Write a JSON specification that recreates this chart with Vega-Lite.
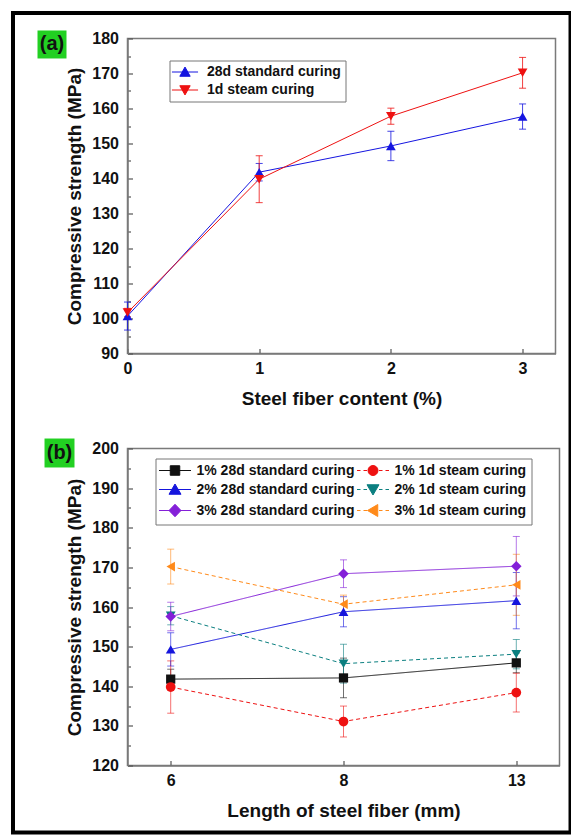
{
  "$schema": "https://vega.github.io/schema/vega-lite/v6.json",
  "padding": {"left": 9.5, "top": 9.5, "right": 0, "bottom": 2},
  "background": "white",
  "bounds": "flush",
  "spacing": 95,
  "config": {
    "font": "Liberation Sans",
    "view": {"stroke": "#7a7a7a", "strokeWidth": 1.5},
    "axis": {
      "grid": false, "domainColor": "#7a7a7a", "domainWidth": 1.5,
      "tickColor": "#555", "tickWidth": 1.2,
      "labelFont": "Liberation Sans", "labelFontWeight": "bold", "labelFontSize": 16, "labelColor": "#111",
      "titleFont": "Liberation Sans", "titleFontWeight": "bold", "titleFontSize": 19, "titleColor": "#111",
      "labelFlush": false, "labelOverlap": false
    },
    "legend": {
      "labelFont": "Liberation Sans", "labelFontSize": 14, "labelFontWeight": "bold", "labelColor": "#111", "labelLimit": 300,
      "symbolStrokeWidth": 1, "symbolOpacity": 1, "strokeColor": "#777", "fillColor": "white", "rowPadding": 4
    }
  },
  "resolve": {"scale": {"color": "independent", "strokeDash": "independent"}},
  "vconcat": [
    {
      "width": 428,
      "height": 315,
      "layer": [
        {
          "data": {"values": [{}]},
          "mark": {"type": "rect", "fill": "transparent", "stroke": "black", "strokeWidth": 4},
          "encoding": {"x": {"datum": -0.8695}, "x2": {"datum": 3.364}, "y": {"datum": 187.286}, "y2": {"datum": -46.857}}
        },
        {
          "data": {"values": [{}]},
          "mark": {"type": "rect", "fill": "#22d022"},
          "encoding": {"x": {"datum": -0.6834}, "x2": {"datum": -0.4632}, "y": {"datum": 182.29}, "y2": {"datum": 174.29}}
        },
        {
          "data": {"values": [{}]},
          "mark": {"type": "text", "font": "Liberation Sans", "fontSize": 20, "fontWeight": "bold", "color": "#111", "align": "center", "baseline": "middle"},
          "encoding": {"x": {"datum": -0.5733}, "y": {"datum": 178.3}, "text": {"value": "(a)"}}
        },
        {
          "data": {"values": [
            {"series": "28d standard curing", "content": 0, "strength": 100.7, "err": 4.0},
            {"series": "28d standard curing", "content": 1, "strength": 141.8, "err": 2.5},
            {"series": "28d standard curing", "content": 2, "strength": 149.3, "err": 4.2},
            {"series": "28d standard curing", "content": 3, "strength": 157.7, "err": 3.6},
            {"series": "1d steam curing", "content": 0, "strength": 101.7, "err": 1.2},
            {"series": "1d steam curing", "content": 1, "strength": 139.8, "err": 6.7},
            {"series": "1d steam curing", "content": 2, "strength": 157.8, "err": 2.3},
            {"series": "1d steam curing", "content": 3, "strength": 170.2, "err": 4.4}
          ]},
          "encoding": {
            "x": {"field": "content", "type": "quantitative",
              "scale": {"domain": [0, 3.25], "nice": false, "zero": false},
              "axis": {"values": [0, 1, 2, 3], "tickCount": 20, "format": "d", "title": "Steel fiber content (%)", "tickSize": -5, "labelPadding": 12, "titlePadding": 13, "labelOverlap": false}},
            "y": {"field": "strength", "type": "quantitative",
              "scale": {"domain": [90, 180], "nice": false, "zero": false},
              "axis": {"values": [90, 95, 100, 105, 110, 115, 120, 125, 130, 135, 140, 145, 150, 155, 160, 165, 170, 175, 180],
                "tickCount": 40,
                "labelExpr": "datum.value % 10 === 0 ? datum.label : ''",
                "labelOverlap": false,
                "labelFontSize": {"condition": {"test": "datum.value % 10 !== 0", "value": 1}, "value": 16},
                "tickSize": {"condition": {"test": "datum.value % 10 === 0", "value": -5}, "value": -3},
                "labelPadding": 14, "titlePadding": 7, "title": "Compressive strength (MPa)"}},
            "color": {"field": "series", "type": "nominal",
              "scale": {"domain": ["28d standard curing", "1d steam curing"], "range": ["#1515e0", "#ee1111"]}}
          },
          "layer": [
            {
              "mark": {"type": "line", "strokeWidth": 1},
              "encoding": {
                "color": {"field": "series", "type": "nominal",
                  "scale": {"domain": ["28d standard curing", "1d steam curing"], "range": ["#1515e0", "#ee1111"]},
                  "legend": {
                    "title": null, "orient": "none", "legendX": 42, "legendY": 22,
                    "symbolSize": 81, "padding": 4.5, "symbolOffset": 4, "labelOffset": 15,
                    "encode": {"symbols": {"update": {
                      "shape": {"signal": "datum.value === '28d standard curing' ? 'M-2.9,0H2.9M0,-1.1L1.15,0.95H-1.15Z' : 'M-2.9,0H2.9M0,1.1L1.15,-0.95H-1.15Z'"},
                      "fill": {"signal": "datum.value === '28d standard curing' ? '#1515e0' : '#ee1111'"},
                      "stroke": {"signal": "datum.value === '28d standard curing' ? '#1515e0' : '#ee1111'"},
                      "strokeWidth": {"value": 1},
                      "opacity": {"value": 1}
                    }}}
                  }}
              }
            },
            {
              "mark": {"type": "errorbar", "ticks": {"size": 7}, "thickness": 1, "opacity": 0.8},
              "encoding": {"yError": {"field": "err"}}
            },
            {
              "transform": [{"filter": "datum.series === '28d standard curing'"}],
              "mark": {"type": "point", "filled": true, "opacity": 1, "size": 95, "shape": "triangle-up"}
            },
            {
              "transform": [{"filter": "datum.series === '1d steam curing'"}],
              "mark": {"type": "point", "filled": true, "opacity": 1, "size": 95, "shape": "triangle-down"}
            }
          ]
        }
      ]
    },
    {
      "width": 432,
      "height": 317,
      "resolve": {"scale": {"x": "independent"}, "axis": {"x": "independent"}},
      "layer": [
        {
          "data": {"values": [{}]},
          "layer": [
            {
              "mark": {"type": "rect", "fill": "#22d022"},
              "encoding": {
                "x": {"datum": -0.1921, "type": "quantitative", "scale": {"domain": [0, 1], "nice": false, "zero": false}, "axis": null},
                "x2": {"datum": -0.1227},
                "y": {"datum": 202.52, "type": "quantitative", "scale": {"domain": [120, 200], "nice": false, "zero": false}},
                "y2": {"datum": 195.21}
              }
            },
            {
              "mark": {"type": "text", "font": "Liberation Sans", "fontSize": 20, "fontWeight": "bold", "color": "#111", "align": "center", "baseline": "middle"},
              "encoding": {
                "x": {"datum": -0.1574, "type": "quantitative", "scale": {"domain": [0, 1], "nice": false, "zero": false}, "axis": null},
                "y": {"datum": 198.86, "type": "quantitative"},
                "text": {"value": "(b)"}
              }
            }
          ]
        },
        {
          "data": {"values": [
            {"series": "1% 28d standard curing", "curing": "standard", "length": 6, "strength": 141.8, "err": 2.5},
            {"series": "1% 28d standard curing", "curing": "standard", "length": 8, "strength": 142.1, "err": 5.0},
            {"series": "1% 28d standard curing", "curing": "standard", "length": 13, "strength": 145.9, "err": 2.5},
            {"series": "1% 1d steam curing", "curing": "steam", "length": 6, "strength": 139.8, "err": 6.6},
            {"series": "1% 1d steam curing", "curing": "steam", "length": 8, "strength": 131.1, "err": 3.9},
            {"series": "1% 1d steam curing", "curing": "steam", "length": 13, "strength": 138.4, "err": 4.9},
            {"series": "2% 28d standard curing", "curing": "standard", "length": 6, "strength": 149.3, "err": 4.2},
            {"series": "2% 28d standard curing", "curing": "standard", "length": 8, "strength": 158.8, "err": 3.8},
            {"series": "2% 28d standard curing", "curing": "standard", "length": 13, "strength": 161.6, "err": 7.1},
            {"series": "2% 1d steam curing", "curing": "steam", "length": 6, "strength": 157.8, "err": 2.3},
            {"series": "2% 1d steam curing", "curing": "steam", "length": 8, "strength": 145.7, "err": 4.9},
            {"series": "2% 1d steam curing", "curing": "steam", "length": 13, "strength": 148.1, "err": 3.7},
            {"series": "3% 28d standard curing", "curing": "standard", "length": 6, "strength": 157.6, "err": 3.6},
            {"series": "3% 28d standard curing", "curing": "standard", "length": 8, "strength": 168.4, "err": 3.5},
            {"series": "3% 28d standard curing", "curing": "standard", "length": 13, "strength": 170.3, "err": 7.5},
            {"series": "3% 1d steam curing", "curing": "steam", "length": 6, "strength": 170.2, "err": 4.4},
            {"series": "3% 1d steam curing", "curing": "steam", "length": 8, "strength": 160.7, "err": 2.3},
            {"series": "3% 1d steam curing", "curing": "steam", "length": 13, "strength": 165.6, "err": 7.7}
          ]},
          "encoding": {
            "x": {"field": "length", "type": "ordinal",
              "scale": {"type": "point", "domain": [6, 8, 13], "padding": 0.25},
              "axis": {"labelAngle": 0, "title": "Length of steel fiber (mm)", "tickSize": -5, "labelPadding": 12, "titlePadding": 13, "labelOverlap": false}},
            "y": {"field": "strength", "type": "quantitative",
              "scale": {"domain": [120, 200], "nice": false, "zero": false},
              "axis": {"values": [120, 125, 130, 135, 140, 145, 150, 155, 160, 165, 170, 175, 180, 185, 190, 195, 200],
                "tickCount": 40,
                "labelExpr": "datum.value % 10 === 0 ? datum.label : ''",
                "labelOverlap": false,
                "labelFontSize": {"condition": {"test": "datum.value % 10 !== 0", "value": 1}, "value": 16},
                "tickSize": {"condition": {"test": "datum.value % 10 === 0", "value": -5}, "value": -3},
                "labelPadding": 14, "titlePadding": 7, "title": "Compressive strength (MPa)"}},
            "color": {"field": "series", "type": "nominal",
              "scale": {"domain": ["1% 28d standard curing", "2% 28d standard curing", "3% 28d standard curing", "1% 1d steam curing", "2% 1d steam curing", "3% 1d steam curing"],
                "range": ["#111111", "#1515dd", "#8420d8", "#ee1111", "#0b7f80", "#ff8a1a"]}}
          },
          "layer": [
            {
              "mark": {"type": "line", "strokeWidth": 1},
              "encoding": {
                "detail": {"field": "series"},
                "strokeDash": {"field": "curing", "type": "nominal",
                  "scale": {"domain": ["standard", "steam"], "range": [[1, 0], [4, 3]]},
                  "legend": null},
                "color": {"field": "series", "type": "nominal",
                  "scale": {"domain": ["1% 28d standard curing", "2% 28d standard curing", "3% 28d standard curing", "1% 1d steam curing", "2% 1d steam curing", "3% 1d steam curing"],
                    "range": ["#111111", "#1515dd", "#8420d8", "#ee1111", "#0b7f80", "#ff8a1a"]},
                  "legend": {
                    "title": null, "orient": "none", "legendX": 28, "legendY": 10, "columns": 2, "columnPadding": 0,
                    "symbolSize": 100, "padding": 5, "symbolOffset": 7.5, "labelOffset": 14.5,
                    "encode": {"symbols": {"update": {
                      "shape": {"signal": "['M-3.2,0H3.2M-0.95,-0.95H0.95V0.95H-0.95Z','M-3.2,0H-2.5M-1.9,0H-1.2M1.2,0H1.9M2.5,0H3.2M1,0A1,1,0,1,1,-1,0A1,1,0,1,1,1,0Z','M-3.2,0H3.2M0,-1.1L1.2,0.95H-1.2Z','M-3.2,0H-2.5M-1.9,0H-1.2M1.2,0H1.9M2.5,0H3.2M0,1.1L1.2,-0.95H-1.2Z','M-3.2,0H3.2M0,-1.25L1.2,0L0,1.25L-1.2,0Z','M-3.2,0H-2.5M-1.9,0H-1.2M1.2,0H1.9M2.5,0H3.2M-1.1,0L0.95,-1.2V1.2Z'][indexof(['1% 28d standard curing','1% 1d steam curing','2% 28d standard curing','2% 1d steam curing','3% 28d standard curing','3% 1d steam curing'], datum.value)]"},
                      "fill": {"signal": "['#111111','#ee1111','#1515dd','#0b7f80','#8420d8','#ff8a1a'][indexof(['1% 28d standard curing','1% 1d steam curing','2% 28d standard curing','2% 1d steam curing','3% 28d standard curing','3% 1d steam curing'], datum.value)]"},
                      "stroke": {"signal": "['#111111','#ee1111','#1515dd','#0b7f80','#8420d8','#ff8a1a'][indexof(['1% 28d standard curing','1% 1d steam curing','2% 28d standard curing','2% 1d steam curing','3% 28d standard curing','3% 1d steam curing'], datum.value)]"},
                      "strokeWidth": {"value": 1},
                      "opacity": {"value": 1}
                    }}}
                  }}
              }
            },
            {
              "mark": {"type": "errorbar", "ticks": {"size": 7}, "thickness": 1, "opacity": 0.6},
              "encoding": {"yError": {"field": "err"}}
            },
            {
              "transform": [{"filter": "datum.series === '1% 28d standard curing'"}],
              "mark": {"type": "point", "filled": true, "opacity": 1, "size": 85, "shape": "square"}
            },
            {
              "transform": [{"filter": "datum.series === '1% 1d steam curing'"}],
              "mark": {"type": "point", "filled": true, "opacity": 1, "size": 95, "shape": "circle"}
            },
            {
              "transform": [{"filter": "datum.series === '2% 28d standard curing'"}],
              "mark": {"type": "point", "filled": true, "opacity": 1, "size": 95, "shape": "triangle-up"}
            },
            {
              "transform": [{"filter": "datum.series === '2% 1d steam curing'"}],
              "mark": {"type": "point", "filled": true, "opacity": 1, "size": 95, "shape": "triangle-down"}
            },
            {
              "transform": [{"filter": "datum.series === '3% 28d standard curing'"}],
              "mark": {"type": "point", "filled": true, "opacity": 1, "size": 110, "shape": "diamond"}
            },
            {
              "transform": [{"filter": "datum.series === '3% 1d steam curing'"}],
              "mark": {"type": "point", "filled": true, "opacity": 1, "size": 95, "shape": "triangle-left"}
            }
          ]
        }
      ]
    }
  ]
}
